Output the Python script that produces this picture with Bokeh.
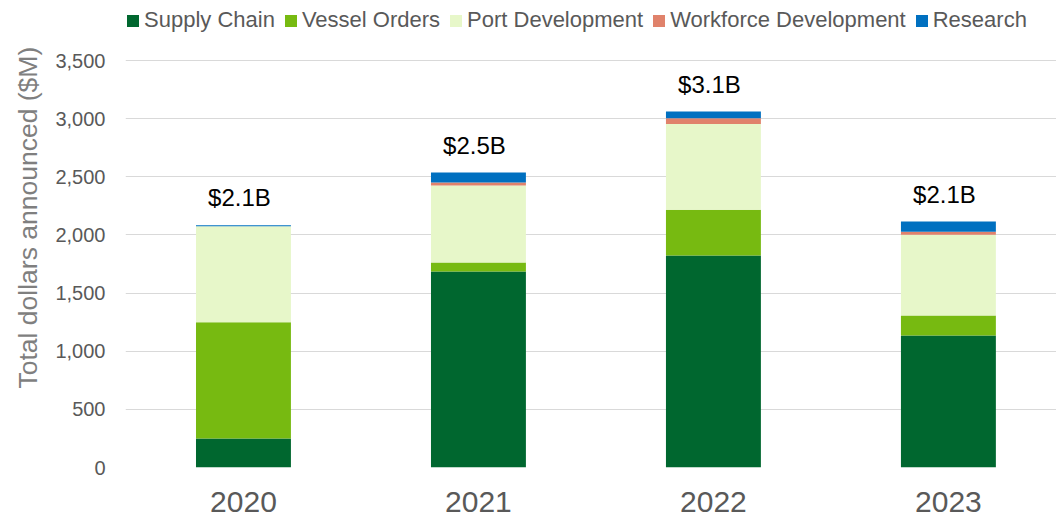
from bokeh.plotting import figure
from bokeh.models import (ColumnDataSource, Range1d, FixedTicker, NumeralTickFormatter,
                          Legend, LegendItem, Title)
from bokeh.core.properties import value
from bokeh.embed import file_html
from bokeh.resources import INLINE

# ---- data ----
years = ["2020", "2021", "2022", "2023"]
supply_chain = [250, 1685, 1823, 1135]
vessel_orders = [1000, 78, 393, 172]
port_development = [825, 662, 739, 694]
workforce_development = [0, 26, 49, 26]
research = [8, 85, 57, 88]

series_names = ["Supply Chain", "Vessel Orders", "Port Development",
                "Workforce Development", "Research"]
series_keys = ["supply", "vessel", "port", "workforce", "research"]
colors = ["#00672F", "#77BA11", "#E7F7C9", "#E0826B", "#0070C0"]
y_ticks = [0, 500, 1000, 1500, 2000, 2500, 3000, 3500]

FONT = "Liberation Sans"
GRAY = "#595959"

xs = list(range(len(years)))
totals = [sum(v) for v in zip(supply_chain, vessel_orders, port_development,
                              workforce_development, research)]
total_labels = ["${:.1f}B".format(t / 1000.0) for t in totals]

source = ColumnDataSource(dict(
    x=xs, supply=supply_chain, vessel=vessel_orders, port=port_development,
    workforce=workforce_development, research=research,
    total=totals, label=total_labels,
))

# frame reaches the top of the canvas so the legend can sit inside it;
# gridlines/ticks stop at 3,500 so the extra headroom stays blank
p = figure(frame_width=931, frame_height=467, output_backend="svg",
           toolbar_location=None,
           x_range=Range1d(-0.502, 3.460), y_range=Range1d(0, 4016),
           min_border_left=125, min_border_right=0, min_border_top=0,
           min_border_bottom=53)
p.outline_line_color = None
p.background_fill_color = "white"
p.border_fill_color = "white"

renderers = p.vbar_stack(series_keys, x="x", width=0.404, source=source,
                         color=colors, line_color=None)

# totals above bars
p.text(x="x", y="total", text="label", source=source, text_align="center",
       text_baseline="bottom", y_offset=-14, x_offset=-4,
       text_font=value(FONT), text_font_size="24px", text_color="black")

# grid
p.xgrid.visible = False
p.ygrid.grid_line_color = "#D9D9D9"
p.ygrid.grid_line_width = 1
p.ygrid.ticker = FixedTicker(ticks=y_ticks)

# y axis (tick labels)
p.yaxis.ticker = FixedTicker(ticks=y_ticks)
p.yaxis.formatter = NumeralTickFormatter(format="0,0")
p.yaxis.axis_line_color = None
p.yaxis.major_tick_line_color = None
p.yaxis.minor_tick_line_color = None
p.yaxis.major_tick_out = 0
p.yaxis.major_label_standoff = 20
p.yaxis.major_label_text_font = FONT
p.yaxis.major_label_text_font_size = "20px"
p.yaxis.major_label_text_color = GRAY

# y title as a left-side title, shifted up from the frame bottom
p.add_layout(Title(text="Total dollars announced ($M)", align="left", offset=79,
                   standoff=20, text_font=FONT, text_font_size="26.5px",
                   text_font_style="normal", text_color="#7F7F7F"), "left")

# x axis
p.xaxis.ticker = FixedTicker(ticks=xs)
p.xaxis.major_label_overrides = {i: y for i, y in zip(xs, years)}
p.xaxis.axis_line_color = None
p.xaxis.major_tick_line_color = None
p.xaxis.minor_tick_line_color = None
p.xaxis.major_tick_out = 0
p.xaxis.major_label_standoff = 24
p.xaxis.major_label_text_font = FONT
p.xaxis.major_label_text_font_size = "30px"
p.xaxis.major_label_text_color = GRAY

# legend
items = [LegendItem(label=n, renderers=[r]) for n, r in zip(series_names, renderers)]
legend = Legend(items=items, orientation="horizontal", location=(0, 434),
                glyph_width=15, glyph_height=15, label_standoff=4, spacing=8,
                padding=0, margin=0, border_line_color=None,
                background_fill_alpha=0, label_text_font=FONT,
                label_text_font_size="22px", label_text_color=GRAY)
p.add_layout(legend, "center")

open("out.html", "w").write(file_html(p, INLINE))
